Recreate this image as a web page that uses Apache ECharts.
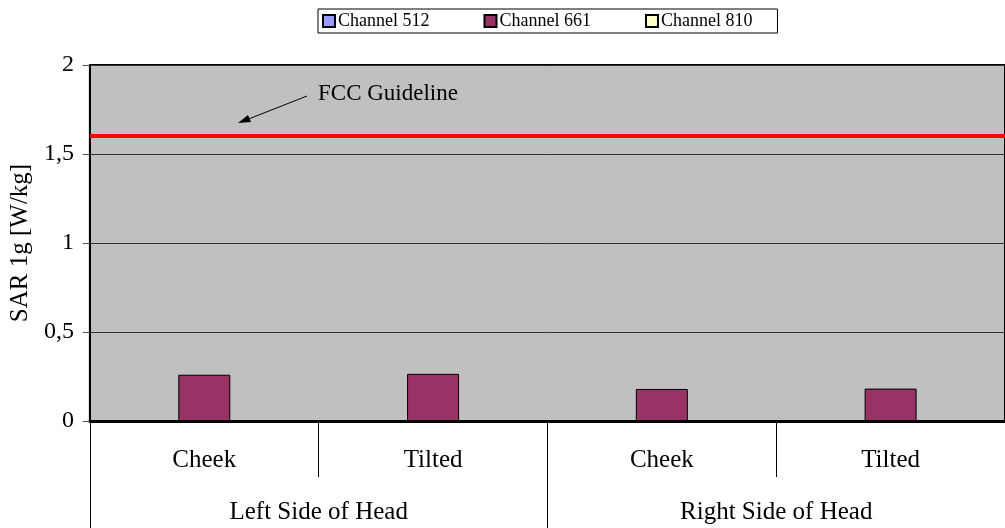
<!DOCTYPE html>
<html>
<head>
<meta charset="utf-8">
<style>
  html, body { margin: 0; padding: 0; background: #fff; }
  #chart { width: 1005px; height: 528px; }
</style>
<script src="https://cdn.jsdelivr.net/npm/echarts@6/dist/echarts.min.js"></script>
</head>
<body>
<div id="chart"></div>
<script>
// 数据
const positions = ['Cheek', 'Tilted', 'Cheek', 'Tilted'];
const sides = ['Left Side of Head', 'Right Side of Head'];
const channelNames = ['Channel 512', 'Channel 661', 'Channel 810'];
const ch512 = [null, null, null, null];
const ch661 = [0.26, 0.265, 0.18, 0.182];
const ch810 = [null, null, null, null];
const fccLimit = 1.6;
const yTicks = [0, 0.5, 1, 1.5, 2];

const serif = 'Liberation Serif, Times New Roman, serif';
const chart = echarts.init(document.getElementById('chart'));

function barSeries(name, data, color) {
    return {
        name: name,
        type: 'bar',
        xAxisIndex: 0,
        data: data,
        barWidth: 52,
        barGap: '0%',
        itemStyle: { color: color, borderColor: '#000', borderWidth: 1 }
    };
}

const s661 = barSeries(channelNames[1], ch661, '#993366');
// FCC 限值线
s661.markLine = {
    silent: true,
    symbol: ['none', 'none'],
    label: { show: false },
    lineStyle: { color: '#FF0000', width: 4, type: 'solid' },
    data: [{ yAxis: fccLimit }]
};

const option = {
    animation: false,
    textStyle: { fontFamily: serif },
    legend: {
        data: channelNames.map(n => ({ name: n, icon: 'rect' })),
        left: 318,
        top: 9,
        padding: [3, 25, 3, 4],
        itemGap: 54,
        itemWidth: 12,
        itemHeight: 12,
        borderColor: '#000',
        borderWidth: 1,
        textStyle: { fontFamily: serif, fontSize: 18, color: '#000', padding: [0, 0, 0, -2] }
    },
    grid: {
        left: 87,
        top: 65,
        width: 925,
        bottom: 107,
        show: true,
        backgroundColor: '#C0C0C0',
        borderColor: '#000',
        borderWidth: 2
    },
    xAxis: [
        {
            type: 'category',
            data: positions,
            position: 'bottom',
            axisLine: { lineStyle: { color: '#000', width: 3 } },
            axisTick: { show: true, length: 56, lineStyle: { color: '#000', width: 1 } },
            axisLabel: { fontFamily: serif, fontSize: 25, color: '#000', margin: 27 }
        },
        {
            type: 'category',
            data: sides,
            position: 'bottom',
            offset: 0,
            axisLine: { show: false },
            axisTick: { show: true, length: 107, lineStyle: { color: '#000', width: 1 } },
            axisLabel: { fontFamily: serif, fontSize: 25, color: '#000', margin: 79 }
        }
    ],
    yAxis: {
        type: 'value',
        min: yTicks[0],
        max: yTicks[yTicks.length - 1],
        interval: 0.5,
        name: 'SAR 1g [W/kg]',
        nameLocation: 'middle',
        nameGap: 52,
        nameTextStyle: { fontFamily: serif, fontSize: 25, color: '#000' },
        axisLine: { show: true, lineStyle: { color: '#000', width: 2 } },
        axisTick: { show: true, length: 7, lineStyle: { color: '#555' } },
        splitLine: { lineStyle: { color: '#333', width: 1 } },
        axisLabel: {
            fontFamily: serif, fontSize: 24, color: '#000', margin: 16,
            formatter: v => String(v).replace('.', ',')
        }
    },
    series: [
        barSeries(channelNames[0], ch512, '#9999FF'),
        s661,
        barSeries(channelNames[2], ch810, '#FFFFCC')
    ],
    graphic: [
        {
            type: 'text',
            left: 318,
            top: 82,
            style: { text: 'FCC Guideline', font: '23px ' + serif, fill: '#000' }
        },
        {
            type: 'line',
            shape: { x1: 307, y1: 96, x2: 246, y2: 120 },
            style: { stroke: '#000', lineWidth: 1 }
        },
        {
            type: 'polygon',
            shape: { points: [[238, 123], [248, 115], [251, 122]] },
            style: { fill: '#000' }
        }
    ]
};

chart.setOption(option);
window.addEventListener('resize', function() {
    chart.resize();
});
</script>
</body>
</html>
